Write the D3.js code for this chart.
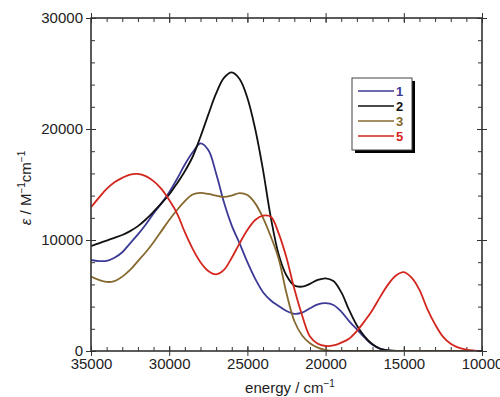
<!DOCTYPE html>
<html>
<head>
  <meta charset="utf-8">
  <script src="https://d3js.org/d3.v7.min.js"></script>
  <style>
  body { margin: 0; background: #fff; }
  * { font-family: "Liberation Sans", Arial, sans-serif; }
  </style>
</head>
<body>
<div id="chart"></div>
<script>
// energies (cm-1), common grid every 500 from 35000 down to 10000
const energy = d3.range(35000, 9999, -500);

const eps1 = [8200, 8100, 8120, 8400, 8900, 9700, 10500, 11400, 12400, 13300,
  14300, 15500, 16800, 17900, 18700, 18100, 16000, 13400, 11300, 9700,
  8000, 6500, 5300, 4550, 4050, 3600, 3350, 3450, 3850, 4200,
  4320, 4150, 3550, 2700, 1950, 1200, 560, 200, 50, 0,
  0, 0, 0, 0, 0, 0, 0, 0, 0, 0, 0];
const eps2 = [9450, 9700, 9950, 10200, 10450, 10800, 11250, 11850, 12550, 13300,
  14100, 15100, 16200, 17500, 19300, 21300, 23200, 24600, 25100, 24500,
  22800, 20000, 16300, 12000, 8700, 6800, 5900, 5800, 6050, 6400,
  6550, 6300, 5300, 3700, 2300, 1300, 600, 200, 50, 0,
  0, 0, 0, 0, 0, 0, 0, 0, 0, 0, 0];
const eps3 = [6700, 6400, 6220, 6300, 6700, 7300, 8100, 8900, 9800, 10800,
  11800, 12700, 13500, 14100, 14250, 14150, 14000, 13880, 14000, 14230,
  14050, 13300, 12000, 10300, 8300, 5200, 2700, 1400, 700, 300,
  80, 0, 0, 0, 0, 0, 0, 0, 0, 0,
  0, 0, 0, 0, 0, 0, 0, 0, 0, 0, 0];
const eps5 = [12950, 13800, 14600, 15200, 15600, 15900, 15950, 15750, 15300, 14600,
  13600, 12400, 10700, 9200, 8000, 7200, 6900, 7300, 8400, 9700,
  10900, 11800, 12200, 12100, 10600, 8400, 5600, 3200, 1300, 650,
  450, 500, 750, 1100, 1800, 2700, 3700, 4900, 6000, 6800,
  7100, 6600, 5500, 3800, 2400, 1300, 650, 300, 120, 40, 0];

const seriesNames = ["1", "2", "3", "5"];
const seriesColors = ["#3c3a96", "#111111", "#86692e", "#d3261f"];
const seriesValues = [eps1, eps2, eps3, eps5];

const xTicks = [35000, 30000, 25000, 20000, 15000, 10000];
const yTicks = [0, 10000, 20000, 30000];

const W = 500, H = 397;
const margin = { top: 18, right: 18, bottom: 46, left: 91 };

const svg = d3.select("#chart").append("svg")
  .attr("width", W).attr("height", H);

const x = d3.scaleLinear().domain([35000, 10000]).range([margin.left, W - margin.right]);
const y = d3.scaleLinear().domain([0, 30000]).range([H - margin.bottom, margin.top]);

const axisColor = "#333";

function styleAxis(g) {
  g.select(".domain").remove();
  g.selectAll("line").attr("stroke", axisColor).attr("stroke-width", 1);
  g.selectAll("text").attr("fill", "#222").style("font-size", "15px");
}

// minor ticks (inward)
const xMinor = d3.range(35000, 10000, -1000);
const yMinor = d3.range(0, 30000, 2000);
svg.append("g").attr("transform", `translate(0,${y(0)})`)
  .call(d3.axisBottom(x).tickValues(xMinor).tickSize(-4).tickFormat("")).call(styleAxis);
svg.append("g").attr("transform", `translate(0,${y(30000)})`)
  .call(d3.axisTop(x).tickValues(xMinor).tickSize(-4).tickFormat("")).call(styleAxis);
svg.append("g").attr("transform", `translate(${x(35000)},0)`)
  .call(d3.axisLeft(y).tickValues(yMinor).tickSize(-4).tickFormat("")).call(styleAxis);
svg.append("g").attr("transform", `translate(${x(10000)},0)`)
  .call(d3.axisRight(y).tickValues(yMinor).tickSize(-4).tickFormat("")).call(styleAxis);

// major ticks crossing the frame
svg.append("g").attr("transform", `translate(0,${y(0)})`)
  .call(d3.axisBottom(x).tickValues(xTicks).tickSize(-5).tickFormat("")).call(styleAxis);
svg.append("g").attr("transform", `translate(0,${y(0)})`)
  .call(d3.axisBottom(x).tickValues(xTicks).tickSize(5).tickPadding(2).tickFormat(d3.format("d")))
  .call(styleAxis);
svg.append("g").attr("transform", `translate(0,${y(30000)})`)
  .call(d3.axisTop(x).tickValues(xTicks).tickSize(5).tickFormat("")).call(styleAxis);
svg.append("g").attr("transform", `translate(0,${y(30000)})`)
  .call(d3.axisTop(x).tickValues(xTicks).tickSize(-5).tickFormat("")).call(styleAxis);
svg.append("g").attr("transform", `translate(${x(35000)},0)`)
  .call(d3.axisLeft(y).tickValues(yTicks).tickSize(-5).tickFormat("")).call(styleAxis);
svg.append("g").attr("transform", `translate(${x(35000)},0)`)
  .call(d3.axisLeft(y).tickValues(yTicks).tickSize(5).tickPadding(3).tickFormat(d3.format("d")))
  .call(styleAxis);
svg.append("g").attr("transform", `translate(${x(10000)},0)`)
  .call(d3.axisRight(y).tickValues(yTicks).tickSize(5).tickFormat("")).call(styleAxis);
svg.append("g").attr("transform", `translate(${x(10000)},0)`)
  .call(d3.axisRight(y).tickValues(yTicks).tickSize(-5).tickFormat("")).call(styleAxis);

// curves
const line = d3.line()
  .x((d, i) => x(energy[i]))
  .y(d => y(d))
  .curve(d3.curveCatmullRom.alpha(0.5));

const plot = svg.append("g");
plot.append("clipPath").attr("id", "clip").append("rect")
  .attr("x", x(35000)).attr("y", y(30000))
  .attr("width", x(10000) - x(35000)).attr("height", y(0) - y(30000));

seriesValues.forEach((vals, k) => {
  plot.append("path")
    .datum(vals)
    .attr("clip-path", "url(#clip)")
    .attr("fill", "none")
    .attr("stroke", seriesColors[k])
    .attr("stroke-width", 1.8)
    .attr("d", line);
});

// frame
svg.append("rect")
  .attr("x", x(35000)).attr("y", y(30000))
  .attr("width", x(10000) - x(35000)).attr("height", y(0) - y(30000))
  .attr("fill", "none").attr("stroke", axisColor).attr("stroke-width", 1.6);

// axis labels
svg.append("text")
  .attr("x", 290).attr("y", 393)
  .attr("text-anchor", "middle")
  .style("font-size", "15px").attr("fill", "#222")
  .html('energy / cm<tspan dy="-6" font-size="10px">\u22121</tspan>');

svg.append("text")
  .attr("transform", "translate(31,188) rotate(-90)")
  .attr("text-anchor", "middle")
  .style("font-size", "15px").attr("fill", "#222")
  .html('<tspan font-style="italic">\u03b5</tspan> / M<tspan dy="-6" font-size="10px">\u22121</tspan><tspan dy="6">cm</tspan><tspan dy="-6" font-size="10px">\u22121</tspan>');

// legend
const lg = svg.append("g").attr("transform", "translate(352,78)");
lg.append("rect").attr("x", 3).attr("y", 3).attr("width", 60).attr("height", 72).attr("fill", "#000");
lg.append("rect").attr("width", 60).attr("height", 72)
  .attr("fill", "#fff").attr("stroke", "#444").attr("stroke-width", 1);
seriesNames.forEach((name, k) => {
  const yy = 13 + k * 15;
  lg.append("line").attr("x1", 6).attr("x2", 42).attr("y1", yy).attr("y2", yy)
    .attr("stroke", seriesColors[k]).attr("stroke-width", 1.6);
  lg.append("text").attr("x", 44).attr("y", yy + 5)
    .style("font-size", "13px").style("font-weight", "bold")
    .attr("fill", seriesColors[k]).text(name);
});
</script>
</body>
</html>
